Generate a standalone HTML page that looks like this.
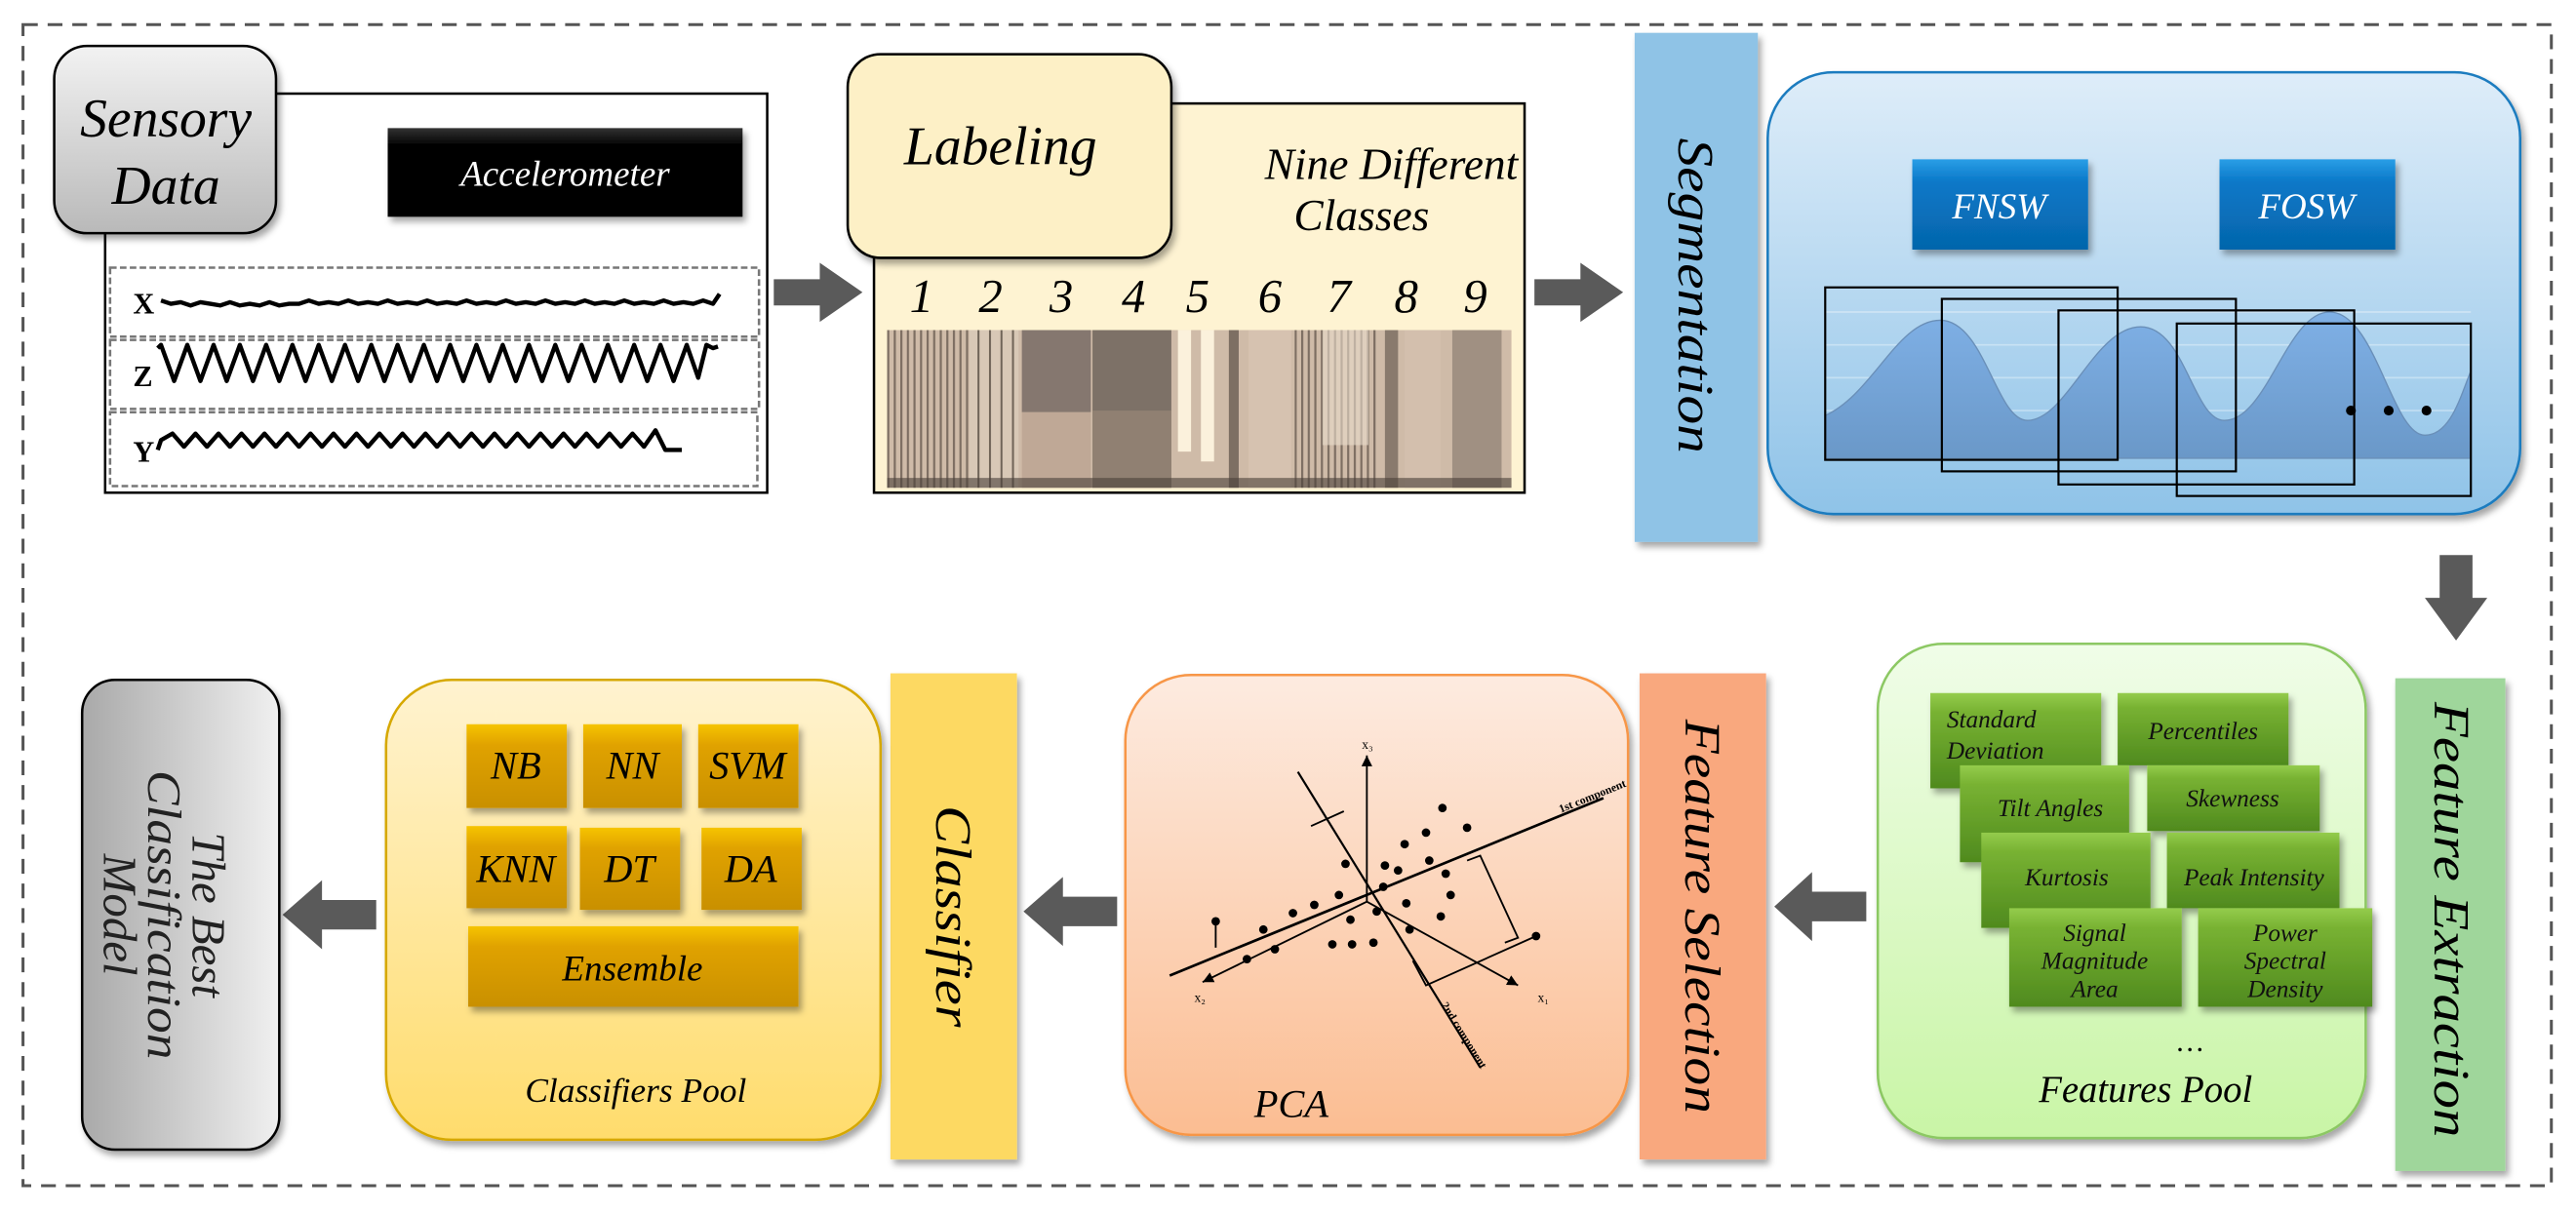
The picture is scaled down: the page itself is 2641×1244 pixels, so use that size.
<!DOCTYPE html>
<html><head><meta charset="utf-8"><style>html,body{margin:0;padding:0;background:#fff}svg{display:block}</style></head><body>
<svg width="2641" height="1244" viewBox="0 0 1568 738.6" preserveAspectRatio="none" xmlns="http://www.w3.org/2000/svg" font-family="'Liberation Serif',serif" font-style="italic">
<defs>
<filter id="sh" x="-10%" y="-10%" width="130%" height="130%"><feDropShadow dx="2" dy="3" stdDeviation="2" flood-color="#000" flood-opacity="0.35"/></filter>
<linearGradient id="gGray" x1="0" y1="0" x2="0" y2="1"><stop offset="0" stop-color="#f2f2f2"/><stop offset="1" stop-color="#b9b9b9"/></linearGradient>
<linearGradient id="gGrayH" x1="0" y1="0" x2="1" y2="0"><stop offset="0" stop-color="#a9a9a9"/><stop offset="1" stop-color="#f0f0f0"/></linearGradient>
<linearGradient id="gBlue" x1="0" y1="0" x2="0" y2="1"><stop offset="0" stop-color="#deedf9"/><stop offset="1" stop-color="#8fc3e8"/></linearGradient>
<linearGradient id="gBtn" x1="0" y1="0" x2="0" y2="1"><stop offset="0" stop-color="#2a9ee6"/><stop offset="0.25" stop-color="#0a78c8"/><stop offset="1" stop-color="#0565ab"/></linearGradient>
<linearGradient id="gWave" x1="0" y1="0" x2="0" y2="1"><stop offset="0" stop-color="#7fb0e6"/><stop offset="1" stop-color="#6a98c8"/></linearGradient>
<linearGradient id="gGreen" x1="0" y1="0" x2="0" y2="1"><stop offset="0" stop-color="#f0fde8"/><stop offset="1" stop-color="#c9f5a6"/></linearGradient>
<linearGradient id="gTileG" x1="0" y1="0" x2="0" y2="1"><stop offset="0" stop-color="#94cc4c"/><stop offset="0.2" stop-color="#78b232"/><stop offset="1" stop-color="#4f8a1e"/></linearGradient>
<linearGradient id="gOrange" x1="0" y1="0" x2="0" y2="1"><stop offset="0" stop-color="#fdebe0"/><stop offset="1" stop-color="#fbbd92"/></linearGradient>
<linearGradient id="gYel" x1="0" y1="0" x2="0" y2="1"><stop offset="0" stop-color="#fff3d0"/><stop offset="1" stop-color="#ffdc6c"/></linearGradient>
<linearGradient id="gGold" x1="0" y1="0" x2="0" y2="1"><stop offset="0" stop-color="#f6c400"/><stop offset="0.25" stop-color="#e0a200"/><stop offset="1" stop-color="#c99000"/></linearGradient>
<linearGradient id="gBlack" x1="0" y1="0" x2="0" y2="1"><stop offset="0" stop-color="#333"/><stop offset="0.2" stop-color="#000"/><stop offset="1" stop-color="#000"/></linearGradient>
<pattern id="stripes" width="4" height="10" patternUnits="userSpaceOnUse"><rect width="1.3" height="10" fill="#3a3028" opacity="0.55"/></pattern>
<pattern id="stripes2" width="7" height="10" patternUnits="userSpaceOnUse"><rect width="1.2" height="10" fill="#2a2018" opacity="0.6"/></pattern>
<marker id="ah" markerWidth="8" markerHeight="8" refX="6" refY="3" orient="auto"><path d="M0,0 L6,3 L0,6 z" fill="#000"/></marker>
</defs>

<rect x="14" y="15" width="1539" height="707" fill="none" stroke="#555" stroke-width="1.8" stroke-dasharray="9,6"/>

<!-- Sensory data -->
<rect x="64" y="57" width="403" height="243" fill="#fff" stroke="#000" stroke-width="1.5"/>
<rect x="236" y="78" width="216" height="54" fill="url(#gBlack)" filter="url(#sh)"/>
<text x="344" y="113" font-size="22" fill="#fff" text-anchor="middle">Accelerometer</text>
<rect x="33" y="28" width="135" height="114" rx="20" fill="url(#gGray)" stroke="#000" stroke-width="1.5" filter="url(#sh)"/>
<text x="101" y="83" font-size="33" text-anchor="middle">Sensory</text>
<text x="101" y="124" font-size="33" text-anchor="middle">Data</text>
<g fill="none" stroke="#777" stroke-width="1.5" stroke-dasharray="4,2">
<rect x="67" y="163" width="395" height="42"/>
<rect x="67" y="207" width="395" height="42"/>
<rect x="67" y="251" width="394" height="45"/>
</g>
<g font-style="normal" font-size="18" font-weight="bold">
<text x="81" y="191">X</text><text x="81" y="235">Z</text><text x="81" y="281">Y</text>
</g>
<g fill="none" stroke="#000" stroke-width="2.6" stroke-linejoin="round">
<path d="M98 183 l6 2 l6 -1 l6 2 l6 -2 l6 1 l6 1 l6 -2 l6 2 l6 -1 l6 1 l6 -2 l6 2 l6 -1 l6 0 l6 -2 l6 2 l6 -1 l6 1 l6 -2 l6 2 l6 -1 l6 1 l6 -2 l6 2 l6 -1 l6 1 l6 -2 l6 2 l6 -1 l6 1 l6 -2 l6 2 l6 -1 l6 1 l6 -2 l6 2 l6 -1 l6 1 l6 -2 l6 2 l6 -1 l6 1 l6 -2 l6 2 l6 -1 l6 1 l6 -2 l6 2 l6 -1 l6 1 l6 -2 l6 2 l6 -1 l6 1 l6 -2 l6 2 l4 -6"/>
<path d="M96 212 l2 -2 l8 22 l8 -22 l8 22 l8 -22 l8 22 l8 -22 l8 22 l8 -22 l8 22 l8 -22 l8 22 l8 -22 l8 22 l8 -22 l8 22 l8 -22 l8 22 l8 -22 l8 22 l8 -22 l8 22 l8 -22 l8 22 l8 -22 l8 22 l8 -22 l8 22 l8 -22 l8 22 l8 -22 l8 22 l8 -22 l8 22 l8 -22 l8 22 l8 -22 l8 22 l8 -22 l8 22 l8 -22 l7 20 l5 -20 l4 2 l3 -1"/>
<path d="M96 274 l2 -6 l7 -4 l7 8 l7 -8 l7 8 l7 -8 l7 8 l7 -8 l7 8 l7 -8 l7 8 l7 -8 l7 8 l7 -8 l7 8 l7 -8 l7 8 l7 -8 l7 8 l7 -8 l7 8 l7 -8 l7 8 l7 -8 l7 8 l7 -8 l7 8 l7 -8 l7 8 l7 -8 l7 8 l7 -8 l7 8 l7 -8 l7 8 l7 -8 l7 8 l7 -8 l7 8 l7 -8 l7 8 l7 -8 l7 8 l7 -10 l6 12 l10 0"/>
</g>

<!-- arrows -->
<g fill="#5a5a5a">
<path d="M471 170 h28 v-10 l26 18 l-26 18 v-10 h-28 z"/>
<path d="M934 170 h28 v-10 l26 18 l-26 18 v-10 h-28 z"/>
<path d="M1485 338 h20 v26 h9 l-19 26 l-19 -26 h9 z"/>
<path d="M1136 543 v18 h-33 v12 l-23 -21 l23 -21 v12 z"/>
<path d="M680 546 v18 h-33 v12 l-24 -21 l24 -21 v12 z"/>
<path d="M229 548 v18 h-33 v12 l-24 -21 l24 -21 v12 z"/>
</g>

<!-- Labeling -->
<rect x="532" y="63" width="396" height="237" fill="#fef3d2" stroke="#000" stroke-width="1.5"/>
<rect x="516" y="33" width="197" height="124" rx="20" fill="#fdf0c6" stroke="#000" stroke-width="1.5" filter="url(#sh)"/>
<text x="609" y="100" font-size="33" text-anchor="middle">Labeling</text>
<text x="924" y="109" font-size="27" text-anchor="end">Nine Different</text>
<text x="870" y="140" font-size="27" text-anchor="end">Classes</text>
<g font-size="29" text-anchor="middle">
<text x="561" y="190">1</text><text x="603" y="190">2</text><text x="646" y="190">3</text><text x="690" y="190">4</text><text x="729" y="190">5</text><text x="773" y="190">6</text><text x="815" y="190">7</text><text x="856" y="190">8</text><text x="898" y="190">9</text>
</g>
<g>
<rect x="540" y="201" width="380" height="96" fill="#cfbba8"/>
<rect x="540" y="201" width="50" height="96" fill="url(#stripes)"/>
<rect x="590" y="201" width="30" height="96" fill="#d8c8b6"/>
<rect x="590" y="201" width="30" height="96" fill="url(#stripes2)"/>
<rect x="622" y="201" width="42" height="50" fill="#7c7068" opacity="0.9"/>
<rect x="622" y="251" width="42" height="46" fill="#bfa896"/>
<rect x="665" y="201" width="48" height="96" fill="#6e645c" opacity="0.85"/>
<rect x="665" y="250" width="48" height="47" fill="#9c8a7a" opacity="0.6"/>
<rect x="717" y="201" width="8" height="74" fill="#fbf1dc"/>
<rect x="731" y="201" width="8" height="80" fill="#fbf1dc"/>
<rect x="748" y="201" width="6" height="96" fill="#5a4e46" opacity="0.7"/>
<rect x="760" y="201" width="26" height="96" fill="#d6c2b0"/>
<rect x="788" y="201" width="50" height="96" fill="url(#stripes)"/>
<rect x="805" y="201" width="28" height="70" fill="#e9dccb" opacity="0.6"/>
<rect x="843" y="201" width="8" height="96" fill="#6b5e54" opacity="0.7"/>
<rect x="855" y="201" width="22" height="96" fill="#d3bfad"/>
<rect x="884" y="201" width="30" height="96" fill="#8b7d72" opacity="0.7"/>
<rect x="540" y="291" width="380" height="6" fill="#4a4038" opacity="0.6"/>
</g>

<!-- Segmentation -->
<rect x="995" y="20" width="75" height="310" fill="#8fc3e6" filter="url(#sh)"/>
<text transform="translate(1032,180) rotate(90)" font-size="31" text-anchor="middle" dominant-baseline="central" textLength="192" lengthAdjust="spacingAndGlyphs">Segmentation</text>

<rect x="1076" y="44" width="458" height="269" rx="40" fill="url(#gBlue)" stroke="#1a7bbf" stroke-width="1.5" filter="url(#sh)"/>
<rect x="1164" y="97" width="107" height="55" fill="url(#gBtn)" filter="url(#sh)"/>
<rect x="1351" y="97" width="107" height="55" fill="url(#gBtn)" filter="url(#sh)"/>
<text x="1217" y="133" font-size="22" fill="#fff" text-anchor="middle">FNSW</text>
<text x="1404" y="133" font-size="22" fill="#fff" text-anchor="middle">FOSW</text>
<g stroke="#fff" stroke-opacity="0.35" stroke-width="1">
<line x1="1111" y1="190" x2="1504" y2="190"/><line x1="1111" y1="210" x2="1504" y2="210"/><line x1="1111" y1="230" x2="1504" y2="230"/><line x1="1111" y1="250" x2="1504" y2="250"/>
</g>
<path d="M1111 279 L1111 253 C1140 240 1155 195 1181 195 C1208 195 1215 256 1234 256 C1258 256 1275 199 1303 199 C1330 199 1335 256 1354 256 C1380 256 1392 190 1418 190 C1446 190 1456 265 1476 265 C1492 265 1498 240 1504 226 L1504 279 Z" fill="url(#gWave)" stroke="#6a8fb8" stroke-width="0.8"/>
<g fill="none" stroke="#000" stroke-width="1.3">
<rect x="1111" y="175" width="178" height="105"/>
<rect x="1182" y="182" width="179" height="105"/>
<rect x="1253" y="189" width="180" height="106"/>
<rect x="1325" y="197" width="179" height="105"/>
</g>
<circle cx="1431" cy="250" r="3"/><circle cx="1454" cy="250" r="3"/><circle cx="1477" cy="250" r="3"/>

<!-- Feature Extraction -->
<rect x="1458" y="413" width="67" height="300" fill="#9fd69b" filter="url(#sh)"/>
<text transform="translate(1492,560) rotate(90)" font-size="31" text-anchor="middle" dominant-baseline="central" textLength="265" lengthAdjust="spacingAndGlyphs">Feature Extraction</text>
<rect x="1143" y="392" width="297" height="301" rx="40" fill="url(#gGreen)" stroke="#8cc864" stroke-width="1.5" filter="url(#sh)"/>
<g filter="url(#sh)">
<rect x="1175" y="422" width="104" height="58" fill="url(#gTileG)"/>
<rect x="1289" y="422" width="104" height="44" fill="url(#gTileG)"/>
<rect x="1193" y="466" width="103" height="59" fill="url(#gTileG)"/>
<rect x="1307" y="466" width="105" height="40" fill="url(#gTileG)"/>
<rect x="1206" y="507" width="103" height="58" fill="url(#gTileG)"/>
<rect x="1319" y="507" width="105" height="46" fill="url(#gTileG)"/>
<rect x="1223" y="553" width="105" height="60" fill="url(#gTileG)"/>
<rect x="1338" y="553" width="106" height="60" fill="url(#gTileG)"/>
</g>
<g font-size="15" fill="#111">
<text x="1185" y="443">Standard</text><text x="1185" y="462">Deviation</text>
<text x="1341" y="450" text-anchor="middle">Percentiles</text>
<text x="1248" y="497" text-anchor="middle">Tilt Angles</text>
<text x="1359" y="491" text-anchor="middle">Skewness</text>
<text x="1258" y="539" text-anchor="middle">Kurtosis</text>
<text x="1372" y="539" text-anchor="middle">Peak Intensity</text>
<text x="1275" y="573" text-anchor="middle">Signal</text><text x="1275" y="590" text-anchor="middle">Magnitude</text><text x="1275" y="607" text-anchor="middle">Area</text>
<text x="1391" y="573" text-anchor="middle">Power</text><text x="1391" y="590" text-anchor="middle">Spectral</text><text x="1391" y="607" text-anchor="middle">Density</text>
</g>
<text x="1333" y="640" font-size="18" text-anchor="middle" font-style="normal">…</text>
<text x="1306" y="671" font-size="23" text-anchor="middle">Features Pool</text>

<!-- Feature Selection -->
<rect x="998" y="410" width="77" height="296" fill="#f9a87e" filter="url(#sh)"/>
<text transform="translate(1036,558) rotate(90)" font-size="31" text-anchor="middle" dominant-baseline="central" textLength="240" lengthAdjust="spacingAndGlyphs">Feature Selection</text>
<rect x="685" y="411" width="306" height="280" rx="40" fill="url(#gOrange)" stroke="#f79646" stroke-width="1.5" filter="url(#sh)"/>
<g stroke="#000" stroke-width="1.1" fill="none">
<line x1="832" y1="549" x2="832" y2="460" marker-end="url(#ah)"/>
<line x1="832" y1="549" x2="924" y2="600" marker-end="url(#ah)"/>
<line x1="832" y1="549" x2="732" y2="598" marker-end="url(#ah)"/>
<line x1="712" y1="594" x2="976" y2="486" stroke-width="1.6"/>
<line x1="790" y1="470" x2="901" y2="650" stroke-width="1.3"/>
<path d="M893 524 l8 -3 l23 50 l-8 3"/>
<path d="M935 570 L868 600 L860 585"/>
<path d="M740 563 v14 M798 503 l20 -9"/>
</g>
<g fill="#000">
<circle cx="878" cy="492" r="2.6"/><circle cx="868" cy="507" r="2.6"/><circle cx="855" cy="514" r="2.6"/><circle cx="893" cy="504" r="2.6"/>
<circle cx="870" cy="524" r="2.6"/><circle cx="851" cy="530" r="2.6"/><circle cx="843" cy="527" r="2.6"/><circle cx="819" cy="526" r="2.6"/>
<circle cx="842" cy="540" r="2.6"/><circle cx="856" cy="550" r="2.6"/><circle cx="883" cy="545" r="2.6"/><circle cx="877" cy="558" r="2.6"/>
<circle cx="815" cy="545" r="2.6"/><circle cx="800" cy="551" r="2.6"/><circle cx="787" cy="556" r="2.6"/><circle cx="769" cy="566" r="2.6"/>
<circle cx="776" cy="578" r="2.6"/><circle cx="759" cy="584" r="2.6"/><circle cx="740" cy="561" r="2.6"/><circle cx="811" cy="575" r="2.6"/>
<circle cx="823" cy="575" r="2.6"/><circle cx="836" cy="574" r="2.6"/><circle cx="858" cy="566" r="2.6"/><circle cx="838" cy="555" r="2.6"/>
<circle cx="935" cy="570" r="2.6"/><circle cx="880" cy="532" r="2.6"/><circle cx="822" cy="560" r="2.6"/>
</g>
<g font-size="8" font-style="normal">
<text x="829" y="456">x₃</text><text x="936" y="610">x₁</text><text x="727" y="610">x₂</text>
<text transform="translate(950,495) rotate(-22)" font-size="7" font-weight="bold">1st component</text>
<text transform="translate(877,612) rotate(58)" font-size="7" font-weight="bold">2nd component</text>
</g>
<text x="786" y="680" font-size="24" text-anchor="middle">PCA</text>

<!-- Classifier -->
<rect x="542" y="410" width="77" height="296" fill="#fdd962" filter="url(#sh)"/>
<text transform="translate(580,558) rotate(90)" font-size="31" text-anchor="middle" dominant-baseline="central" textLength="135" lengthAdjust="spacingAndGlyphs">Classifier</text>
<rect x="235" y="414" width="301" height="280" rx="40" fill="url(#gYel)" stroke="#d6a800" stroke-width="1.5" filter="url(#sh)"/>
<g filter="url(#sh)">
<rect x="284" y="441" width="61" height="51" fill="url(#gGold)"/>
<rect x="355" y="441" width="60" height="51" fill="url(#gGold)"/>
<rect x="425" y="441" width="61" height="51" fill="url(#gGold)"/>
<rect x="284" y="503" width="61" height="50" fill="url(#gGold)"/>
<rect x="353" y="504" width="61" height="50" fill="url(#gGold)"/>
<rect x="427" y="504" width="61" height="50" fill="url(#gGold)"/>
<rect x="285" y="564" width="201" height="49" fill="url(#gGold)"/>
</g>
<g font-size="24" text-anchor="middle">
<text x="314" y="474">NB</text><text x="385" y="474">NN</text><text x="455" y="474">SVM</text>
<text x="314" y="537">KNN</text><text x="383" y="537">DT</text><text x="457" y="537">DA</text>
<text x="385" y="597" font-size="22">Ensemble</text>
</g>
<text x="387" y="671" font-size="21" text-anchor="middle">Classifiers Pool</text>

<!-- Best model -->
<rect x="50" y="414" width="120" height="286" rx="20" fill="url(#gGrayH)" stroke="#000" stroke-width="1.5" filter="url(#sh)"/>
<g font-size="29" text-anchor="middle" fill="#222">
<text transform="translate(127,557) rotate(90)" dominant-baseline="central">The Best</text>
<text transform="translate(100,557) rotate(90)" dominant-baseline="central" textLength="176" lengthAdjust="spacingAndGlyphs">Classification</text>
<text transform="translate(73,557) rotate(90)" dominant-baseline="central">Model</text>
</g>
</svg>
</body></html>
